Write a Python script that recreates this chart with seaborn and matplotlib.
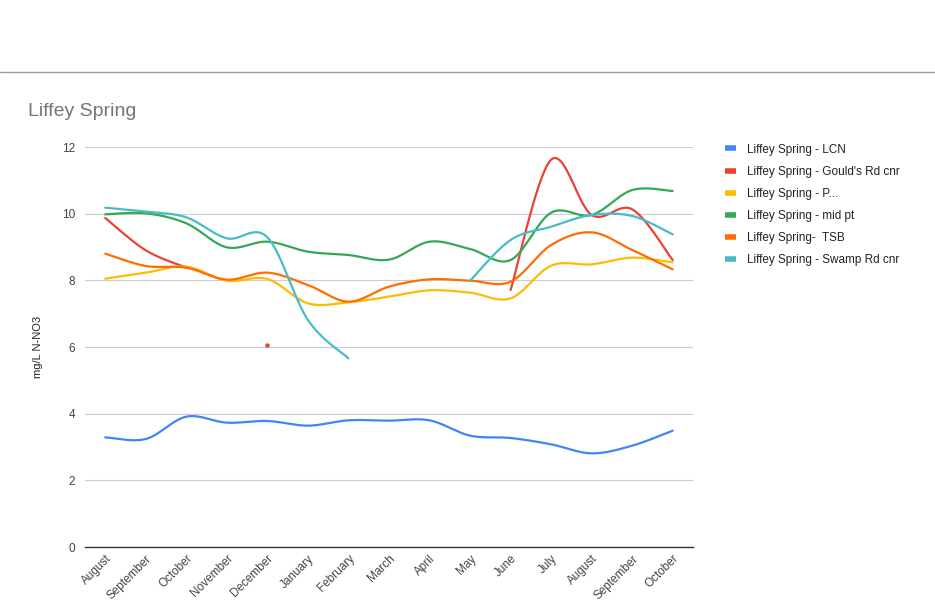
import numpy as np
import pandas as pd
import seaborn as sns
import matplotlib.pyplot as plt
from matplotlib.lines import Line2D

nan = np.nan

months = ["August", "September", "October", "November", "December", "January", "February",
          "March", "April", "May", "June", "July", "August", "September", "October"]

lcn = [3.29, 3.24, 3.91, 3.73, 3.78, 3.64, 3.80, 3.79, 3.80, 3.34, 3.27, 3.08, 2.81, 3.04, 3.49]
goulds = [9.87, 8.90, 8.38, nan, 6.05, nan, nan, nan, nan, nan, 7.71, 11.62, 9.96, 10.13, 8.61]
p_site = [8.05, 8.23, 8.41, 7.99, 8.04, 7.31, 7.34, 7.51, 7.70, 7.63, 7.46, 8.44, 8.48, 8.68, 8.54]
mid_pt = [9.98, 10.01, 9.71, 8.99, 9.16, 8.86, 8.76, 8.62, 9.16, 8.94, 8.61, 10.03, 9.96, 10.71, 10.68]
tsb = [8.80, 8.43, 8.38, 8.02, 8.23, 7.86, 7.36, 7.81, 8.03, 7.99, 7.96, 9.06, 9.44, 8.91, 8.33]
swamp = [10.18, 10.06, 9.89, 9.26, 9.29, 6.81, 5.66, nan, nan, 7.99, 9.21, 9.61, 9.96, 9.93, 9.38]

series = {
    "Liffey Spring - LCN": lcn,
    "Liffey Spring - Gould's Rd cnr": goulds,
    "Liffey Spring - P...": p_site,
    "Liffey Spring - mid pt": mid_pt,
    "Liffey Spring-  TSB": tsb,
    "Liffey Spring - Swamp Rd cnr": swamp,
}
colors = ["#4285F4", "#EA4335", "#FBBC04", "#34A853", "#FF6D01", "#46BDC6"]
palette = dict(zip(series.keys(), colors))


def smooth_run(xs, ys, n=24):
    # catmull-rom curve through the points of one unbroken run
    px = np.r_[xs[0], xs, xs[-1]]
    py = np.r_[ys[0], ys, ys[-1]]
    ox, oy = [], []
    t = np.linspace(0, 1, n, endpoint=False)
    for i in range(1, len(px) - 2):
        for p, out in ((px, ox), (py, oy)):
            p0, p1, p2, p3 = p[i - 1], p[i], p[i + 1], p[i + 2]
            out.extend(0.5 * (2 * p1 + (-p0 + p2) * t + (2 * p0 - 5 * p1 + 4 * p2 - p3) * t ** 2
                              + (-p0 + 3 * p1 - 3 * p2 + p3) * t ** 3))
    ox.append(xs[-1])
    oy.append(ys[-1])
    return ox, oy


rows, dots = [], []
for name, vals in series.items():
    vals = np.array(vals, dtype=float)
    ok = ~np.isnan(vals)
    run, runs = [], []
    for i in range(len(vals)):
        if ok[i]:
            run.append(i)
        elif run:
            runs.append(run)
            run = []
    if run:
        runs.append(run)
    for k, r in enumerate(runs):
        if len(r) == 1:
            dots.append({"series": name, "x": r[0], "y": vals[r[0]]})
            continue
        sx, sy = smooth_run(np.array(r, float), vals[r])
        for a, b in zip(sx, sy):
            rows.append({"series": name, "run": f"{name}-{k}", "x": a, "y": b})

df = pd.DataFrame(rows)
dots = pd.DataFrame(dots)

sns.set_style("white")
plt.rcParams["font.family"] = ["Liberation Sans", "DejaVu Sans"]

fig = plt.figure(figsize=(9.35, 6.0), dpi=100)
ax = fig.add_axes([85 / 935, 53 / 600, 608 / 935, 400 / 600])

sns.lineplot(data=df, x="x", y="y", hue="series", units="run", estimator=None, sort=False,
             palette=palette, linewidth=1.6, legend=False, ax=ax)
sns.scatterplot(data=dots, x="x", y="y", hue="series", palette=palette, s=10,
                linewidth=0, legend=False, ax=ax)

ax.set_xlim(-0.5, 14.5)
ax.set_ylim(0, 12)
ax.set_yticks(range(0, 13, 2))
ax.set_xticks(range(len(months)))
ax.set_xticklabels(months, rotation=45, ha="right", rotation_mode="anchor")
ax.tick_params(axis="both", length=0, labelsize=8.5, colors="#444444")
ax.tick_params(axis="y", pad=7)
ax.tick_params(axis="x", pad=4)
ax.grid(axis="y", color="#cccccc", linewidth=0.8)
ax.set_axisbelow(True)
for s in ["top", "right", "left"]:
    ax.spines[s].set_visible(False)
ax.spines["bottom"].set_color("#333333")
ax.spines["bottom"].set_linewidth(1.0)
ax.set_xlabel("")
ax.set_ylabel("mg/L N-NO3", fontsize=8, color="#222222", labelpad=14)

fig.text(28 / 935, 1 - 111 / 600, "Liffey Spring", fontsize=14, color="#757575", va="center")
fig.add_artist(Line2D([0, 1], [1 - 72 / 600, 1 - 72 / 600], color="#9e9e9e", linewidth=1.0))

handles = [Line2D([], [], color=c, linewidth=4, solid_capstyle="butt") for c in colors]
fig.legend(handles, list(series.keys()), loc="upper left", bbox_to_anchor=(714 / 935, 1 - 133 / 600),
           frameon=False, fontsize=8.5, handlelength=1.0, handletextpad=0.9, labelspacing=0.86,
           labelcolor="#222222")

fig.savefig("out.png", dpi=100)
